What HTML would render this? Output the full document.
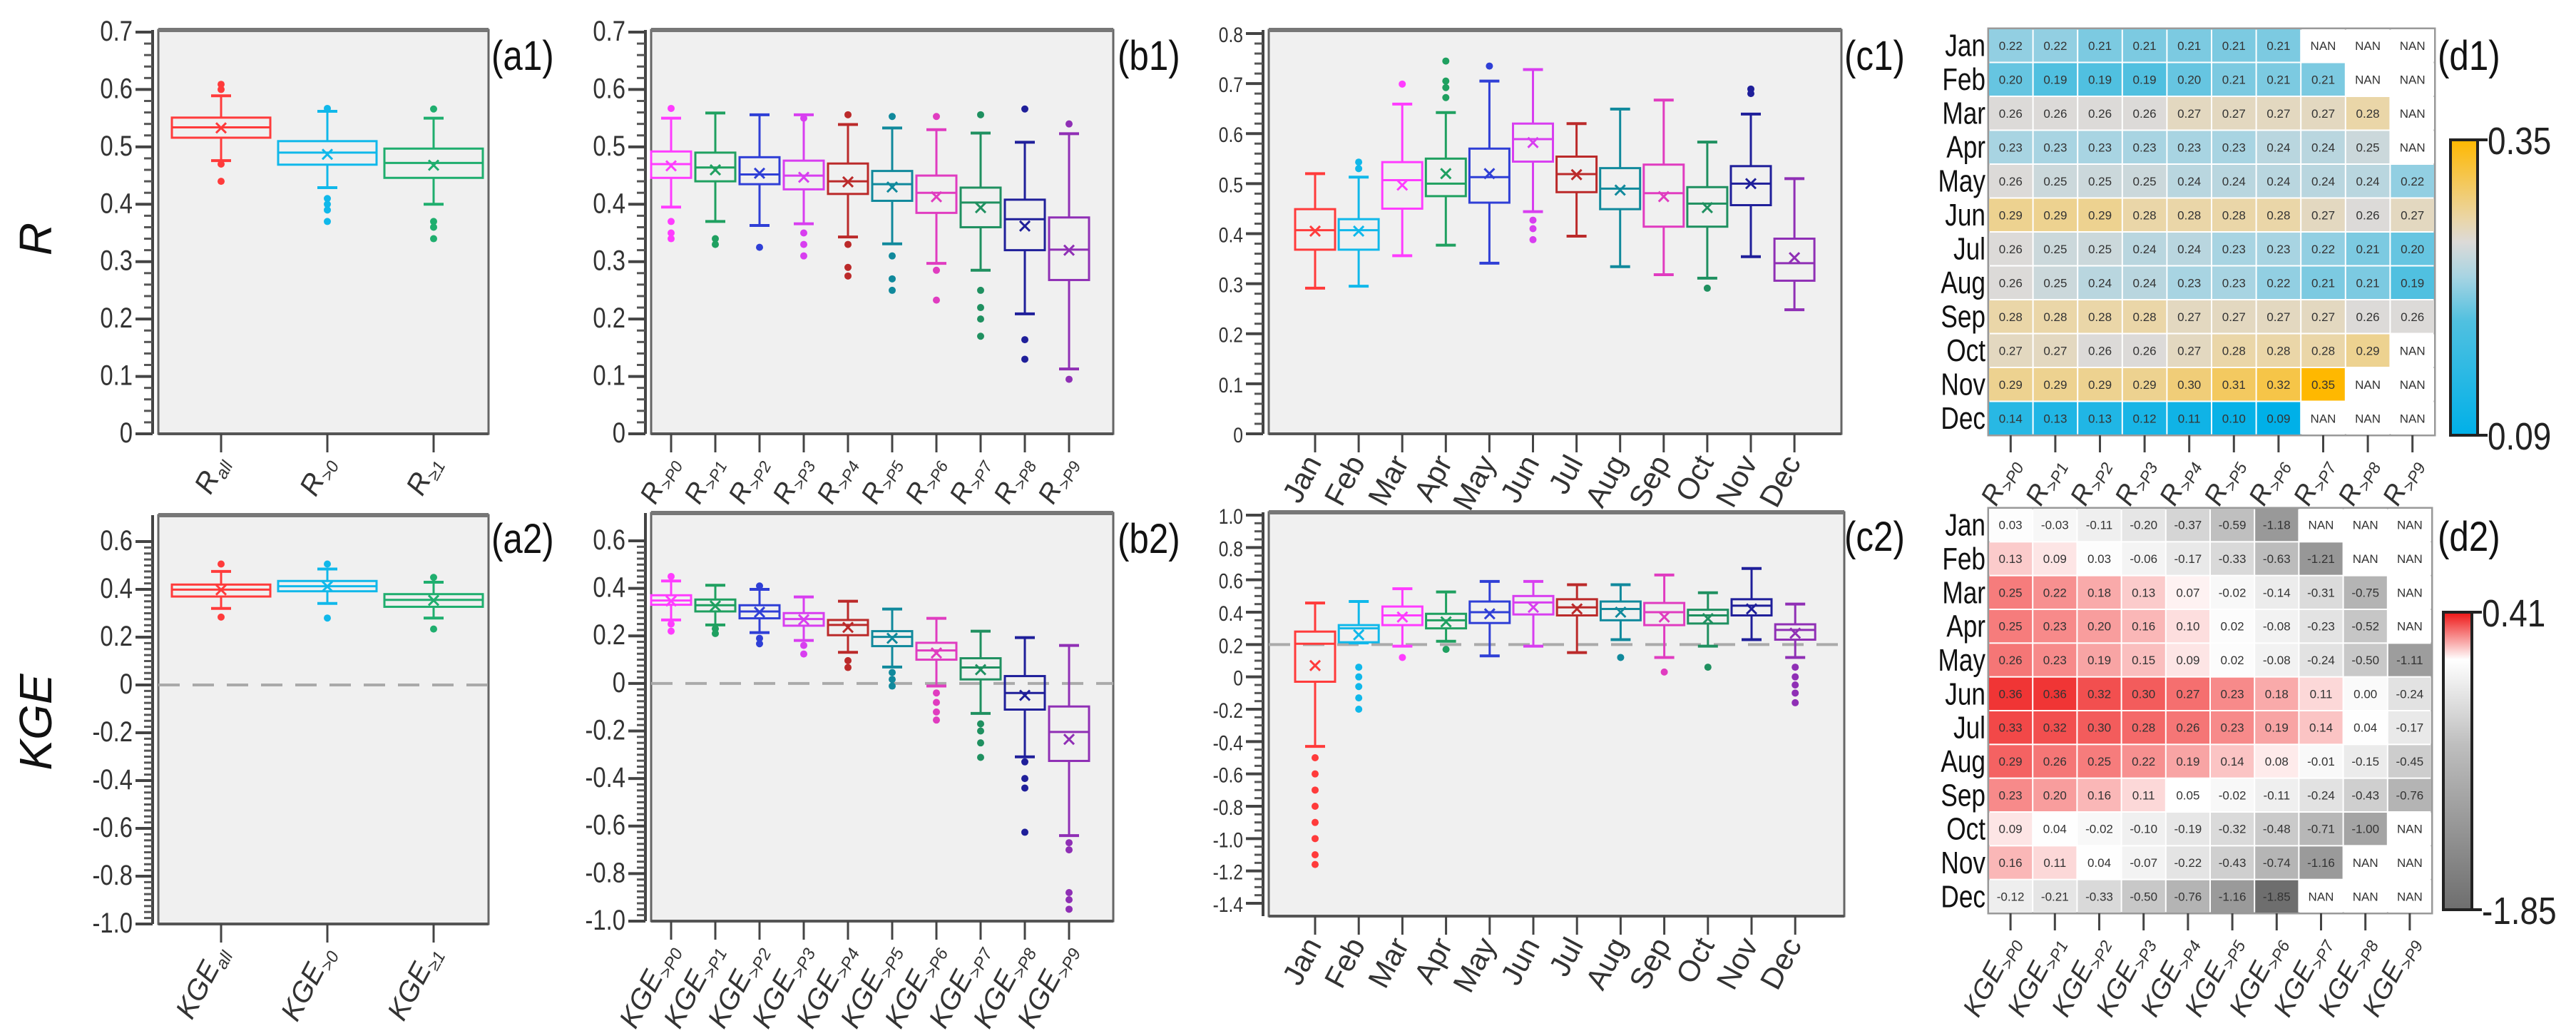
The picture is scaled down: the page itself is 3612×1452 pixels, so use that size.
<!DOCTYPE html>
<html><head><meta charset="utf-8">
<style>
html,body{margin:0;padding:0;background:#fff;}
svg{display:block;font-family:"Liberation Sans",Arial,sans-serif;}
</style></head>
<body>
<svg id="fig" width="3612" height="1452" viewBox="0 0 3612 1452" xmlns="http://www.w3.org/2000/svg"></svg>
<script>
// ===== DATA =====
// a1: R overall
const a1Cats = ["all", ">0", "≥1"];
const a1Q1 = [0.516, 0.469, 0.446];
const a1Med = [0.534, 0.490, 0.472];
const a1Q3 = [0.551, 0.510, 0.497];
const a1Lo = [0.476, 0.429, 0.400];
const a1Hi = [0.589, 0.562, 0.550];
const a1Mean = [0.533, 0.487, 0.468];
const a1Out = [[0.609, 0.600, 0.470, 0.440], [0.567, 0.410, 0.400, 0.390, 0.370], [0.566, 0.370, 0.360, 0.340]];

// b1: R by threshold
const bCats = [">P0", ">P1", ">P2", ">P3", ">P4", ">P5", ">P6", ">P7", ">P8", ">P9"];
const b1Q1 = [0.446, 0.440, 0.435, 0.426, 0.418, 0.406, 0.385, 0.360, 0.320, 0.268];
const b1Med = [0.470, 0.464, 0.452, 0.450, 0.440, 0.435, 0.420, 0.403, 0.374, 0.321];
const b1Q3 = [0.492, 0.490, 0.482, 0.476, 0.471, 0.458, 0.450, 0.429, 0.408, 0.377];
const b1Lo = [0.395, 0.370, 0.363, 0.366, 0.343, 0.331, 0.297, 0.285, 0.209, 0.113];
const b1Hi = [0.550, 0.559, 0.556, 0.556, 0.539, 0.533, 0.530, 0.524, 0.508, 0.523];
const b1Mean = [0.467, 0.460, 0.454, 0.447, 0.439, 0.430, 0.413, 0.394, 0.362, 0.320];
const b1Out = [[0.567, 0.370, 0.350, 0.340], [0.340, 0.330], [0.325], [0.550, 0.350, 0.330, 0.310], [0.556, 0.330, 0.290, 0.275], [0.553, 0.310, 0.270, 0.250], [0.553, 0.285, 0.233], [0.556, 0.250, 0.220, 0.200, 0.170], [0.566, 0.164, 0.130], [0.540, 0.095]];

// c1: R by month
const months = ["Jan", "Feb", "Mar", "Apr", "May", "Jun", "Jul", "Aug", "Sep", "Oct", "Nov", "Dec"];
const c1Q1 = [0.368, 0.368, 0.450, 0.475, 0.462, 0.544, 0.483, 0.449, 0.414, 0.414, 0.457, 0.306];
const c1Med = [0.407, 0.407, 0.507, 0.500, 0.513, 0.589, 0.519, 0.490, 0.481, 0.460, 0.500, 0.341];
const c1Q3 = [0.449, 0.429, 0.543, 0.550, 0.570, 0.620, 0.554, 0.531, 0.538, 0.493, 0.535, 0.390];
const c1Lo = [0.291, 0.295, 0.356, 0.377, 0.341, 0.444, 0.395, 0.334, 0.318, 0.311, 0.354, 0.248];
const c1Hi = [0.520, 0.513, 0.659, 0.642, 0.705, 0.728, 0.620, 0.649, 0.667, 0.583, 0.639, 0.510];
const c1Mean = [0.405, 0.405, 0.497, 0.520, 0.520, 0.582, 0.518, 0.487, 0.474, 0.452, 0.500, 0.352];
const c1Out = [[], [0.543, 0.530], [0.699], [0.745, 0.705, 0.692, 0.672], [0.735], [0.427, 0.410, 0.388], [], [], [], [0.291], [0.689, 0.680], []];

// a2: KGE overall
const a2Q1 = [0.370, 0.392, 0.327];
const a2Med = [0.399, 0.413, 0.356];
const a2Q3 = [0.420, 0.435, 0.380];
const a2Lo = [0.320, 0.341, 0.280];
const a2Hi = [0.475, 0.485, 0.430];
const a2Mean = [0.398, 0.412, 0.354];
const a2Out = [[0.506, 0.284], [0.506, 0.280], [0.450, 0.234]];

// b2: KGE by threshold
const b2Q1 = [0.331, 0.303, 0.274, 0.243, 0.203, 0.157, 0.100, 0.017, -0.110, -0.326];
const b2Med = [0.349, 0.329, 0.303, 0.271, 0.246, 0.196, 0.139, 0.067, -0.040, -0.204];
const b2Q3 = [0.371, 0.353, 0.329, 0.296, 0.267, 0.220, 0.171, 0.106, 0.031, -0.097];
const b2Lo = [0.267, 0.246, 0.214, 0.181, 0.131, 0.069, -0.011, -0.126, -0.309, -0.640];
const b2Hi = [0.431, 0.413, 0.396, 0.364, 0.346, 0.313, 0.274, 0.220, 0.193, 0.160];
const b2Mean = [0.347, 0.326, 0.300, 0.268, 0.236, 0.190, 0.128, 0.058, -0.050, -0.235];
const b2Out = [[0.450, 0.250, 0.220], [0.230, 0.210], [0.410, 0.190, 0.167], [0.160, 0.124], [0.096, 0.067], [0.046, 0.017, -0.011], [-0.040, -0.080, -0.120, -0.154], [-0.170, -0.200, -0.250, -0.311], [-0.330, -0.400, -0.440, -0.626], [-0.670, -0.700, -0.880, -0.910, -0.950]];

// c2: KGE by month
const c2Q1 = [-0.030, 0.214, 0.320, 0.300, 0.333, 0.386, 0.380, 0.350, 0.320, 0.330, 0.380, 0.230];
const c2Med = [0.205, 0.300, 0.380, 0.350, 0.400, 0.460, 0.430, 0.420, 0.400, 0.380, 0.440, 0.290];
const c2Q3 = [0.280, 0.320, 0.435, 0.390, 0.466, 0.500, 0.480, 0.466, 0.457, 0.415, 0.480, 0.325];
const c2Lo = [-0.430, 0.210, 0.190, 0.220, 0.130, 0.190, 0.150, 0.230, 0.120, 0.190, 0.230, 0.120];
const c2Hi = [0.457, 0.466, 0.545, 0.525, 0.590, 0.590, 0.570, 0.570, 0.630, 0.520, 0.670, 0.450];
const c2Mean = [0.070, 0.260, 0.370, 0.340, 0.390, 0.430, 0.420, 0.400, 0.370, 0.360, 0.420, 0.270];
const c2Out = [[-0.50, -0.60, -0.70, -0.80, -0.90, -1.00, -1.10, -1.16], [0.06, 0.00, -0.06, -0.13, -0.20], [0.12], [0.17], [], [], [], [0.12], [0.03], [0.06], [], [0.06, 0.00, -0.05, -0.10, -0.16]];

// d1 / d2 heatmaps (null = NAN)
const d1Vals = [
 [0.22,0.22,0.21,0.21,0.21,0.21,0.21,null,null,null],
 [0.20,0.19,0.19,0.19,0.20,0.21,0.21,0.21,null,null],
 [0.26,0.26,0.26,0.26,0.27,0.27,0.27,0.27,0.28,null],
 [0.23,0.23,0.23,0.23,0.23,0.23,0.24,0.24,0.25,null],
 [0.26,0.25,0.25,0.25,0.24,0.24,0.24,0.24,0.24,0.22],
 [0.29,0.29,0.29,0.28,0.28,0.28,0.28,0.27,0.26,0.27],
 [0.26,0.25,0.25,0.24,0.24,0.23,0.23,0.22,0.21,0.20],
 [0.26,0.25,0.24,0.24,0.23,0.23,0.22,0.21,0.21,0.19],
 [0.28,0.28,0.28,0.28,0.27,0.27,0.27,0.27,0.26,0.26],
 [0.27,0.27,0.26,0.26,0.27,0.28,0.28,0.28,0.29,null],
 [0.29,0.29,0.29,0.29,0.30,0.31,0.32,0.35,null,null],
 [0.14,0.13,0.13,0.12,0.11,0.10,0.09,null,null,null]];
const d2Vals = [
 [0.03,-0.03,-0.11,-0.20,-0.37,-0.59,-1.18,null,null,null],
 [0.13,0.09,0.03,-0.06,-0.17,-0.33,-0.63,-1.21,null,null],
 [0.25,0.22,0.18,0.13,0.07,-0.02,-0.14,-0.31,-0.75,null],
 [0.25,0.23,0.20,0.16,0.10,0.02,-0.08,-0.23,-0.52,null],
 [0.26,0.23,0.19,0.15,0.09,0.02,-0.08,-0.24,-0.50,-1.11],
 [0.36,0.36,0.32,0.30,0.27,0.23,0.18,0.11,0.00,-0.24],
 [0.33,0.32,0.30,0.28,0.26,0.23,0.19,0.14,0.04,-0.17],
 [0.29,0.26,0.25,0.22,0.19,0.14,0.08,-0.01,-0.15,-0.45],
 [0.23,0.20,0.16,0.11,0.05,-0.02,-0.11,-0.24,-0.43,-0.76],
 [0.09,0.04,-0.02,-0.10,-0.19,-0.32,-0.48,-0.71,-1.00,null],
 [0.16,0.11,0.04,-0.07,-0.22,-0.43,-0.74,-1.16,null,null],
 [-0.12,-0.21,-0.33,-0.50,-0.76,-1.16,-1.85,null,null,null]];
const d1Range = [0.09, 0.35];
const d2Range = [-1.85, 0.41];

const a1Ticks = [0,0.1,0.2,0.3,0.4,0.5,0.6,0.7];
const c1Ticks = [0,0.1,0.2,0.3,0.4,0.5,0.6,0.7,0.8];
const a2Ticks = [-1.0,-0.8,-0.6,-0.4,-0.2,0,0.2,0.4,0.6];
const c2Ticks = [-1.4,-1.2,-1.0,-0.8,-0.6,-0.4,-0.2,0,0.2,0.4,0.6,0.8,1.0];

// ===== RENDERING =====
const NS = "http://www.w3.org/2000/svg";
const svg = document.getElementById("fig");
function mk(tag, attrs, parent, text) {
  const e = document.createElementNS(NS, tag);
  for (const k in attrs) e.setAttribute(k, attrs[k]);
  if (text !== undefined) e.textContent = text;
  (parent || svg).appendChild(e);
  return e;
}
const COL3 = ["#ff3b3b", "#10b8ea", "#1fae6e"];
const COL10 = ["#ff3cff", "#1fa060", "#2f3fd6", "#d83ef0", "#bb2a2a", "#10899c", "#e03cc0", "#1f9060", "#1f1f9a", "#8f2fb5"];
const COL12 = ["#ff3b3b", "#10b8ea", "#ff3cff", "#1fa060", "#2f3fd6", "#d83ef0", "#bb2a2a", "#10899c", "#e03cc0", "#1f9060", "#1f1f9a", "#8f2fb5"];

function makeY(p) { return v => p.yb + (v - p.vmin) / (p.vmax - p.vmin) * (p.yt - p.yb); }

function drawPanel(p) {
  const g = mk("g", {});
  
  
  const y = makeY(p);
  const bg = mk("rect", {x: p.x0, y: p.ft, width: p.x1 - p.x0, height: p.fb - p.ft, fill: "#f0f0f0", stroke: "#666", "stroke-width": 3}, g);
  
  
  mk("line", {x1: p.x0, x2: p.x1, y1: p.ft, y2: p.ft, stroke: "#777", "stroke-width": 6}, g);
  mk("line", {x1: p.x0, x2: p.x1, y1: p.fb, y2: p.fb, stroke: "#555", "stroke-width": 4}, g);
  // y axis
  const ax = mk("g", {}, g);
  
  
  mk("line", {x1: p.x0 - 8, x2: p.x0 - 8, y1: p.ft, y2: p.fb, stroke: "#444", "stroke-width": 4}, ax);
  for (let v = p.vmin; v <= p.vmax + 1e-9; v += p.minor) {
    const yy = y(v);
    if (yy < p.ft - 2) continue;
    mk("line", {x1: p.x0 - 20, x2: p.x0 - 8, y1: yy, y2: yy, stroke: "#555", "stroke-width": 3}, ax);
  }
  p.ticks.forEach(t => {
    const yy = y(t);
    mk("line", {x1: p.x0 - 32, x2: p.x0 - 8, y1: yy, y2: yy, stroke: "#444", "stroke-width": 4}, ax);
    const lab = (Math.abs(t) < 1e-9) ? "0" : t.toFixed(1);
    const tx = mk("text", {x: p.x0 - 36, y: yy + 12, "text-anchor": "end", "font-size": p.tfs, fill: "#333", transform: `translate(${p.x0 - 36},0) scale(0.82,1) translate(${-(p.x0 - 36)},0)`}, ax, lab);
    
    
  });
  if (p.zeroLine !== undefined) {
    const zl = mk("line", {x1: p.x0, x2: p.x1, y1: y(p.zeroLine), y2: y(p.zeroLine), stroke: "#aaa", "stroke-width": 4, "stroke-dasharray": "30,18"}, g);
    
    
  }
  // boxes
  const n = p.q1.length;
  for (let i = 0; i < n; i++) {
    const cx = p.c0 + p.step * i, hw = p.bw / 2, c = p.cols[i];
    const bg2 = mk("g", {stroke: c, "stroke-width": 3, fill: "none"}, g);
    
    
    mk("line", {x1: cx, x2: cx, y1: y(p.hi[i]), y2: y(p.q3[i])}, bg2);
    mk("line", {x1: cx, x2: cx, y1: y(p.q1[i]), y2: y(p.lo[i])}, bg2);
    mk("line", {x1: cx - 14, x2: cx + 14, y1: y(p.hi[i]), y2: y(p.hi[i]), "stroke-width": 4}, bg2);
    mk("line", {x1: cx - 14, x2: cx + 14, y1: y(p.lo[i]), y2: y(p.lo[i]), "stroke-width": 4}, bg2);
    mk("rect", {x: cx - hw, y: y(p.q3[i]), width: p.bw, height: Math.max(1, y(p.q1[i]) - y(p.q3[i]))}, bg2);
    mk("line", {x1: cx - hw, x2: cx + hw, y1: y(p.med[i]), y2: y(p.med[i])}, bg2);
    const my = y(p.mean[i]);
    mk("path", {d: `M${cx-7},${my-7}L${cx+7},${my+7}M${cx+7},${my-7}L${cx-7},${my+7}`, "stroke-width": 3}, bg2);
    p.out[i].forEach(o => mk("circle", {cx: cx, cy: y(o), r: 5, fill: c, stroke: "none"}, bg2));
    // x tick
    mk("line", {x1: cx, x2: cx, y1: p.fb, y2: p.fb + 26, stroke: "#444", "stroke-width": 3}, g);
    const lx = cx + 10, ly = p.fb + 40;
    const t = mk("text", {x: lx, y: ly, "text-anchor": "end", "font-size": p.xfs, fill: "#333", "font-style": p.italic ? "italic" : "normal", transform: `rotate(-62 ${lx} ${ly})`}, g);
    
    
    if (p.sub) {
      mk("tspan", {}, t, p.base);
      mk("tspan", {"font-size": p.xfs * 0.6, dy: 8}, t, p.labels[i]);
    } else t.textContent = p.labels[i];
  }
}

const topR = {vmin: 0, vmax: 0.7, yb: 608, yt: 45, ft: 42, fb: 608, minor: 0.02, ticks: a1Ticks, tfs: 40};
drawPanel(Object.assign({}, topR, {name: "panel-a1", key: "a1", x0: 222, x1: 685, c0: 310, step: 149, bw: 138, q1: a1Q1, med: a1Med, q3: a1Q3, lo: a1Lo, hi: a1Hi, mean: a1Mean, out: a1Out, cols: COL3, labels: a1Cats, base: "R", sub: true, italic: true, xfs: 40}));
drawPanel(Object.assign({}, topR, {name: "panel-b1", key: "b1", x0: 913, x1: 1561, c0: 941, step: 62, bw: 56, q1: b1Q1, med: b1Med, q3: b1Q3, lo: b1Lo, hi: b1Hi, mean: b1Mean, out: b1Out, cols: COL10, labels: bCats, base: "R", sub: true, italic: true, xfs: 38}));
drawPanel({name: "panel-c1", key: "c1", vmin: 0, vmax: 0.8, yb: 608, yt: 47, ft: 42, fb: 608, minor: 0.02, ticks: c1Ticks, tfs: 30, x0: 1779, x1: 2582, c0: 1844, step: 61.1, bw: 56, q1: c1Q1, med: c1Med, q3: c1Q3, lo: c1Lo, hi: c1Hi, mean: c1Mean, out: c1Out, cols: COL12, labels: months, sub: false, italic: false, xfs: 42});
drawPanel({name: "panel-a2", key: "a2", vmin: -1.0, vmax: 0.6, yb: 1295, yt: 759, ft: 722, fb: 1295, minor: 0.025, ticks: a2Ticks, tfs: 40, zeroLine: 0, x0: 222, x1: 685, c0: 310, step: 149, bw: 138, q1: a2Q1, med: a2Med, q3: a2Q3, lo: a2Lo, hi: a2Hi, mean: a2Mean, out: a2Out, cols: COL3, labels: a1Cats, base: "KGE", sub: true, italic: true, xfs: 40});
drawPanel({name: "panel-b2", key: "b2", vmin: -1.0, vmax: 0.6, yb: 1291, yt: 758, ft: 719, fb: 1291, minor: 0.025, ticks: a2Ticks, tfs: 40, zeroLine: 0, x0: 913, x1: 1561, c0: 941, step: 62, bw: 56, q1: b2Q1, med: b2Med, q3: b2Q3, lo: b2Lo, hi: b2Hi, mean: b2Mean, out: b2Out, cols: COL10, labels: bCats, base: "KGE", sub: true, italic: true, xfs: 40});
drawPanel({name: "panel-c2", key: "c2", vmin: -1.4, vmax: 1.0, yb: 1266, yt: 722, ft: 718, fb: 1284, minor: 0.05, ticks: c2Ticks, tfs: 30, zeroLine: 0.2, x0: 1779, x1: 2586, c0: 1844, step: 61.2, bw: 56, q1: c2Q1, med: c2Med, q3: c2Q3, lo: c2Lo, hi: c2Hi, mean: c2Mean, out: c2Out, cols: COL12, labels: months, sub: false, italic: false, xfs: 42});

// ===== HEATMAPS =====
function lerpStops(stops, v) {
  if (v <= stops[0][0]) return stops[0][1];
  for (let i = 1; i < stops.length; i++) {
    if (v <= stops[i][0]) {
      const a = stops[i-1], b = stops[i], t = (v - a[0]) / (b[0] - a[0]);
      const c = a[1].map((x, k) => Math.round(x + (b[1][k] - x) * t));
      return c;
    }
  }
  return stops[stops.length - 1][1];
}
const d1Stops = [[0.09,[0,176,232]],[0.19,[80,192,224]],[0.23,[168,212,226]],[0.26,[220,218,216]],[0.28,[234,214,168]],[0.35,[255,184,0]]];
const d2Stops = [[-1.85,[110,110,110]],[-0.6,[190,190,190]],[0.05,[255,255,255]],[0.41,[238,20,20]]];
const rgb = c => `rgb(${c[0]},${c[1]},${c[2]})`;

function drawHeat(h) {
  const g = mk("g", {});
  
  
  const rows = h.vals.length, cols = h.vals[0].length;
  const cw = (h.x1 - h.x0) / cols, ch = (h.y1 - h.y0) / rows;
  mk("rect", {x: h.x0, y: h.y0, width: h.x1 - h.x0, height: h.y1 - h.y0, fill: "#fff", stroke: "#999", "stroke-width": 3}, g);
  h.vals.forEach((row, r) => {
    row.forEach((v, c) => {
      const x = h.x0 + c * cw, yy = h.y0 + r * ch;
      const cell = mk("rect", {x: x + 1, y: yy + 1, width: cw - 2, height: ch - 2, fill: v === null ? "#fff" : rgb(lerpStops(h.stops, v))}, g);
      
      
      mk("text", {x: x + cw / 2, y: yy + ch / 2 + 6, "text-anchor": "middle", "font-size": 17, fill: "#333"}, g, v === null ? "NAN" : v.toFixed(2));
    });
    const rl = mk("text", {x: h.x0 - 4, y: h.y0 + (r + 0.5) * ch + 15, "text-anchor": "end", "font-size": 44, fill: "#111", transform: `translate(${h.x0 - 4},0) scale(0.8,1) translate(${-(h.x0 - 4)},0)`}, g, months[r]);
    
    
  });
  for (let c = 0; c < cols; c++) {
    const cx = h.x0 + (c + 0.5) * cw;
    mk("line", {x1: cx, x2: cx, y1: h.y1, y2: h.y1 + 24, stroke: "#444", "stroke-width": 3}, g);
    const lx = cx + 12, ly = h.y1 + 40;
    const t = mk("text", {x: lx, y: ly, "text-anchor": "end", "font-size": 38, fill: "#333", "font-style": "italic", transform: `rotate(-62 ${lx} ${ly})`}, g);
    
    
    mk("tspan", {}, t, h.base);
    mk("tspan", {"font-size": 23, dy: 8}, t, bCats[c]);
  }
  // colorbar
  const cb = mk("g", {}, g);
  
  
  const gid = h.name + "-grad";
  const defs = mk("defs", {}, cb);
  const lg = mk("linearGradient", {id: gid, x1: 0, y1: 1, x2: 0, y2: 0}, defs);
  h.stops.forEach(s => mk("stop", {offset: (s[0] - h.range[0]) / (h.range[1] - h.range[0]), "stop-color": rgb(s[1])}, lg));
  mk("rect", {x: h.cbx, y: h.cby0, width: h.cbw, height: h.cby1 - h.cby0, fill: `url(#${gid})`, stroke: "#222", "stroke-width": 4}, cb);
  mk("line", {x1: h.cbx + h.cbw, x2: h.cbx + h.cbw + 14, y1: h.cby0, y2: h.cby0, stroke: "#222", "stroke-width": 4}, cb);
  mk("line", {x1: h.cbx + h.cbw, x2: h.cbx + h.cbw + 14, y1: h.cby1, y2: h.cby1, stroke: "#222", "stroke-width": 4}, cb);
  const f = v => v.toFixed(2);
  mk("text", {x: h.cbx + h.cbw + 14, y: h.cby0 + 20, "font-size": 54, fill: "#222", transform: `translate(${h.cbx + h.cbw + 14},0) scale(0.85,1) translate(${-(h.cbx + h.cbw + 14)},0)`}, cb, f(h.range[1]));
  mk("text", {x: h.cbx + h.cbw + 14, y: h.cby1 + 20, "font-size": 54, fill: "#222", transform: `translate(${h.cbx + h.cbw + 14},0) scale(0.85,1) translate(${-(h.cbx + h.cbw + 14)},0)`}, cb, f(h.range[0]));
}
drawHeat({name: "heatmap-d1", vals: d1Vals, stops: d1Stops, range: d1Range, x0: 2788, x1: 3414, y0: 40, y1: 610, base: "R", cbx: 3436, cbw: 38, cby0: 196, cby1: 610});
drawHeat({name: "heatmap-d2", vals: d2Vals, stops: d2Stops, range: d2Range, x0: 2788, x1: 3410, y0: 712, y1: 1280, base: "KGE", cbx: 3426, cbw: 40, cby0: 858, cby1: 1275});

// ===== PANEL LABELS & AXIS TITLES =====
const plabels = [["(a1)", 689, 98], ["(b1)", 1567, 98], ["(c1)", 2586, 98], ["(d1)", 3418, 98], ["(a2)", 689, 775], ["(b2)", 1567, 775], ["(c2)", 2586, 772], ["(d2)", 3418, 772]];
plabels.forEach(l => {
  const t = mk("text", {x: l[1], y: l[2], "font-size": 58, fill: "#111", transform: `translate(${l[1]},0) scale(0.85,1) translate(${-l[1]},0)`}, svg, l[0]);
  
  
});
const yt1 = mk("text", {x: 72, y: 335, "font-size": 64, "font-style": "italic", fill: "#111", "text-anchor": "middle", transform: "rotate(-90 72 335)"}, svg, "R");


const yt2 = mk("text", {x: 72, y: 1012, "font-size": 64, "font-style": "italic", fill: "#111", "text-anchor": "middle", transform: "rotate(-90 72 1012)"}, svg, "KGE");


</script>
</body></html>
